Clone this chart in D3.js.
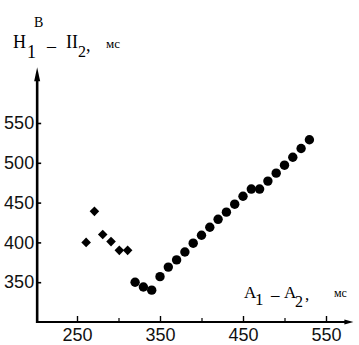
<!DOCTYPE html>
<html>
<head>
<meta charset="utf-8">
<script src="https://cdn.jsdelivr.net/npm/d3@7"></script>
<style>
  html, body { margin: 0; padding: 0; background: #fff; }
  svg { display: block; }
</style>
</head>
<body>
<svg id="chart" width="359" height="345"></svg>
<script>
// Series 1 (diamonds): A1 - A2 (ms) vs H1 - П2 (ms)
const diamondX = [261, 271, 281, 291, 301, 311];
const diamondY = [400, 439, 410, 401, 390, 390];

// Series 2 (circles)
const circleX = [320, 330, 340, 350, 360, 370, 380, 390, 400, 410, 420,
                 430, 440, 450, 460, 470, 480, 490, 500, 510, 520, 530];
const circleY = [350, 344, 340, 357, 369, 378, 388, 399, 409, 419, 429,
                 438, 448, 458, 467, 467, 477, 487, 497, 507, 518, 529];

// Axis ticks
const xTicks = [250, 350, 450, 550];
const xMinorTicks = [300, 400, 500];
const yTicks = [350, 400, 450, 500, 550];

// Axis extents (data units)
const xAxisFrom = 202, xAxisTo = 583;
const yAxisFrom = 300, yAxisTo = 620;

const svg = d3.select("#chart");

const x = d3.scaleLinear().domain([250, 550]).range([77, 326]);
const y = d3.scaleLinear().domain([300, 550]).range([322, 123]);

const x0 = x(xAxisFrom), y0 = y(yAxisFrom);

// Tick labels
const tickFont = "'Liberation Sans', Arial, sans-serif";

const gy = svg.append("g")
  .attr("transform", `translate(${x0},0)`)
  .call(d3.axisLeft(y).tickValues(yTicks).tickSize(-4).tickPadding(3).tickFormat(d3.format("d")));
gy.select(".domain").remove();
gy.selectAll(".tick line").attr("stroke", "#000").attr("stroke-width", 1.6);
gy.selectAll(".tick text")
  .attr("font-family", tickFont).attr("font-size", 18).attr("fill", "#111");

const gx = svg.append("g")
  .attr("transform", `translate(0,${y0})`)
  .call(d3.axisBottom(x).tickValues(xTicks).tickSize(-6).tickPadding(6).tickFormat(d3.format("d")));
gx.select(".domain").remove();
gx.selectAll(".tick line").attr("stroke", "#000").attr("stroke-width", 1.4);
gx.selectAll(".tick text")
  .attr("font-family", tickFont).attr("font-size", 18).attr("fill", "#111");

const gxm = svg.append("g")
  .attr("transform", `translate(0,${y0})`)
  .call(d3.axisBottom(x).tickValues(xMinorTicks).tickSize(-4).tickFormat(""));
gxm.select(".domain").remove();
gxm.selectAll(".tick line").attr("stroke", "#000").attr("stroke-width", 1.2);

// Axis lines with arrowheads
const yTop = y(yAxisTo);
svg.append("line")
  .attr("x1", x0).attr("y1", y0 + 1).attr("x2", x0).attr("y2", yTop + 10)
  .attr("stroke", "#000").attr("stroke-width", 2.6);
svg.append("path")
  .attr("d", `M${x0},${yTop} L${x0 + 3},${yTop + 14} L${x0 - 3},${yTop + 14} Z`)
  .attr("fill", "#000");

const xRight = x(xAxisTo);
svg.append("line")
  .attr("x1", x0 - 1).attr("y1", y0).attr("x2", xRight - 6).attr("y2", y0)
  .attr("stroke", "#000").attr("stroke-width", 2);
svg.append("path")
  .attr("d", `M${xRight},${y0} L${xRight - 9},${y0 - 2.5} L${xRight - 9},${y0 + 2.5} Z`)
  .attr("fill", "#000");

// Data marks
const diamonds = diamondX.map((v, i) => ({ x: v, y: diamondY[i] }));
const circles = circleX.map((v, i) => ({ x: v, y: circleY[i] }));

svg.append("g").selectAll("path")
  .data(diamonds).join("path")
  .attr("transform", d => `translate(${x(d.x)},${y(d.y)}) rotate(45)`)
  .attr("d", d3.symbol().type(d3.symbolSquare).size(46))
  .attr("fill", "#000");

svg.append("g").selectAll("circle")
  .data(circles).join("circle")
  .attr("cx", d => x(d.x)).attr("cy", d => y(d.y)).attr("r", 4.7)
  .attr("fill", "#000");

// Axis titles
const serif = "'Liberation Serif', 'Times New Roman', serif";
function label(parts) {
  parts.forEach(p => {
    svg.append("text")
      .attr("x", p.x).attr("y", p.y)
      .attr("font-family", serif)
      .attr("font-size", p.size)
      .attr("fill", "#000")
      .text(p.t);
  });
}

// Y-axis title: В / H1 - II2, мс
label([
  { t: "В", x: 34, y: 27, size: 14 },
  { t: "H", x: 13, y: 48, size: 18 },
  { t: "1", x: 27, y: 58, size: 18 },
  { t: "–", x: 47, y: 52, size: 18 },
  { t: "II", x: 66, y: 48, size: 18 },
  { t: "2", x: 78, y: 57, size: 16 },
  { t: ",", x: 86, y: 51, size: 18 },
  { t: "мс", x: 106, y: 48, size: 13 }
]);

// X-axis title: A1 - A2, мс
label([
  { t: "A", x: 244, y: 298, size: 17 },
  { t: "1", x: 255, y: 305, size: 17 },
  { t: "–", x: 271, y: 300, size: 17 },
  { t: "A", x: 284, y: 298, size: 17 },
  { t: "2", x: 295, y: 307, size: 16 },
  { t: ",", x: 305, y: 300, size: 17 },
  { t: "мс", x: 334, y: 297, size: 12 }
]);
</script>
</body>
</html>
